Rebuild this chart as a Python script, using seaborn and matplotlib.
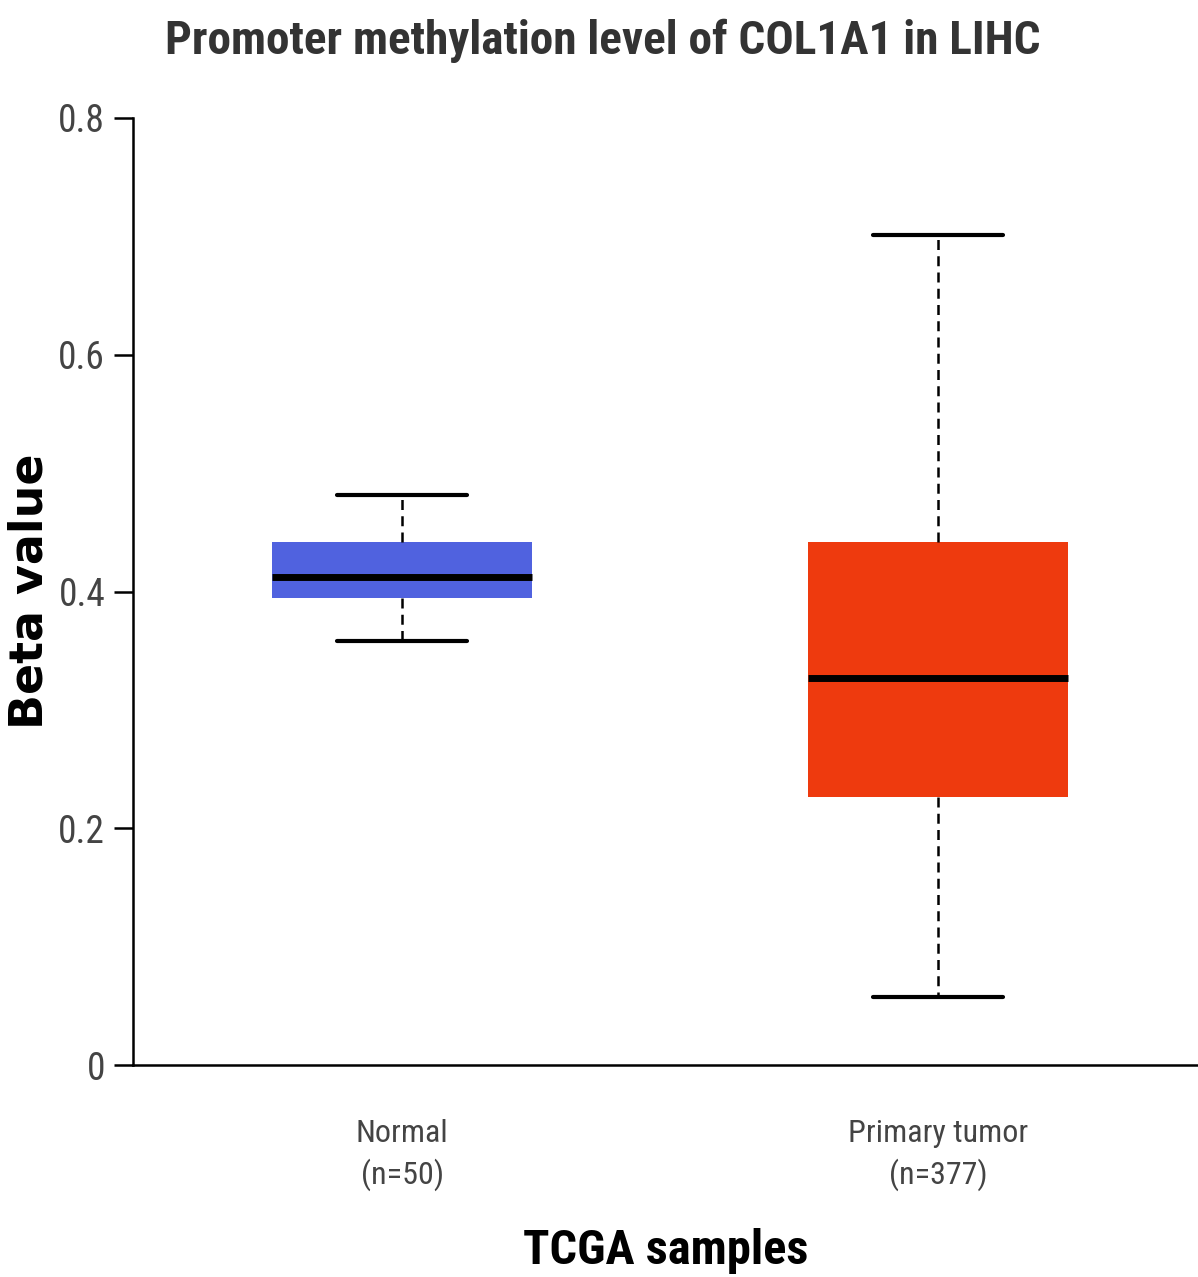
import numpy as np
import pandas as pd
import matplotlib
matplotlib.use("Agg")
import matplotlib.pyplot as plt
import seaborn as sns

# Five-number summaries (lower whisker, Q1, median, Q3, upper whisker) of beta values
groups = ["Normal", "Primary tumor"]
sample_counts = [50, 377]
normal_summary = [0.358, 0.3945, 0.412, 0.442, 0.4815]
tumor_summary = [0.0574, 0.2264, 0.327, 0.442, 0.7012]
box_colors = ["#5062DF", "#EE3A0E"]
y_ticks = [0, 0.2, 0.4, 0.6, 0.8]
y_tick_labels = ["0", "0.2", "0.4", "0.6", "0.8"]

title_text = "Promoter methylation level of COL1A1 in LIHC"
x_title = "TCGA samples"
y_title = "Beta value"

df = pd.DataFrame({
    "group": [groups[0]] * len(normal_summary) + [groups[1]] * len(tumor_summary),
    "beta": normal_summary + tumor_summary,
})

sns.set_style("white")
narrow = ["Roboto Condensed", "DejaVu Sans"]
plt.rcParams["font.family"] = narrow

fig = plt.figure(figsize=(11.98, 12.77), dpi=100)
ax = fig.add_axes([133 / 1198, 1 - 1065 / 1277, 1 - 133 / 1198, (1065 - 118) / 1277])

sns.boxplot(
    data=df, x="group", y="beta", hue="group", palette=box_colors,
    order=groups, hue_order=groups, legend=False, saturation=1,
    whis=(0, 100), width=0.485, showfliers=False, ax=ax,
    linecolor="black",
    boxprops={"linewidth": 0},
    medianprops={"color": "black", "linewidth": 5},
    whiskerprops={"color": "black", "linewidth": 1.8, "linestyle": (0, (4, 2.5))},
    capprops={"color": "black", "linewidth": 3},
)
for patch in ax.patches:
    patch.set_edgecolor("none")

ax.set_xlim(-0.502, 1.485)
ax.set_ylim(0, 0.8)
ax.set_yticks(y_ticks)
ax.set_yticklabels(y_tick_labels)
ax.set_xticks(range(len(groups)))
ax.set_xticklabels([f"{g}\n(n={n})" for g, n in zip(groups, sample_counts)],
                   linespacing=1.42)

for side in ["top", "right"]:
    ax.spines[side].set_visible(False)
for side in ["left", "bottom"]:
    ax.spines[side].set_linewidth(1.8)
    ax.spines[side].set_color("black")

ax.tick_params(axis="y", length=14, width=1.8, color="black", pad=6,
               labelsize=27, labelcolor="#444444", left=True)
ax.tick_params(axis="x", length=0, pad=39, labelsize=23, labelcolor="#444444")

ax.set_xlabel("")
ax.set_ylabel("")
fig.text(0.5 * (133 + 1198) / 1198, 1 - 1251 / 1277, x_title, ha="center", va="center",
         fontsize=35, fontweight="bold", color="black", family=narrow)
fig.text(30 / 1198, 1 - 591 / 1277, y_title, ha="center", va="center", rotation=90,
         fontsize=33, fontweight="bold", color="black", family=["DejaVu Sans"])
fig.text(603 / 1198, 1 - 41 / 1277, title_text, ha="center", va="center",
         fontsize=34, fontweight="bold", color="#333333", family=narrow)

fig.savefig("out.png", dpi=100)
